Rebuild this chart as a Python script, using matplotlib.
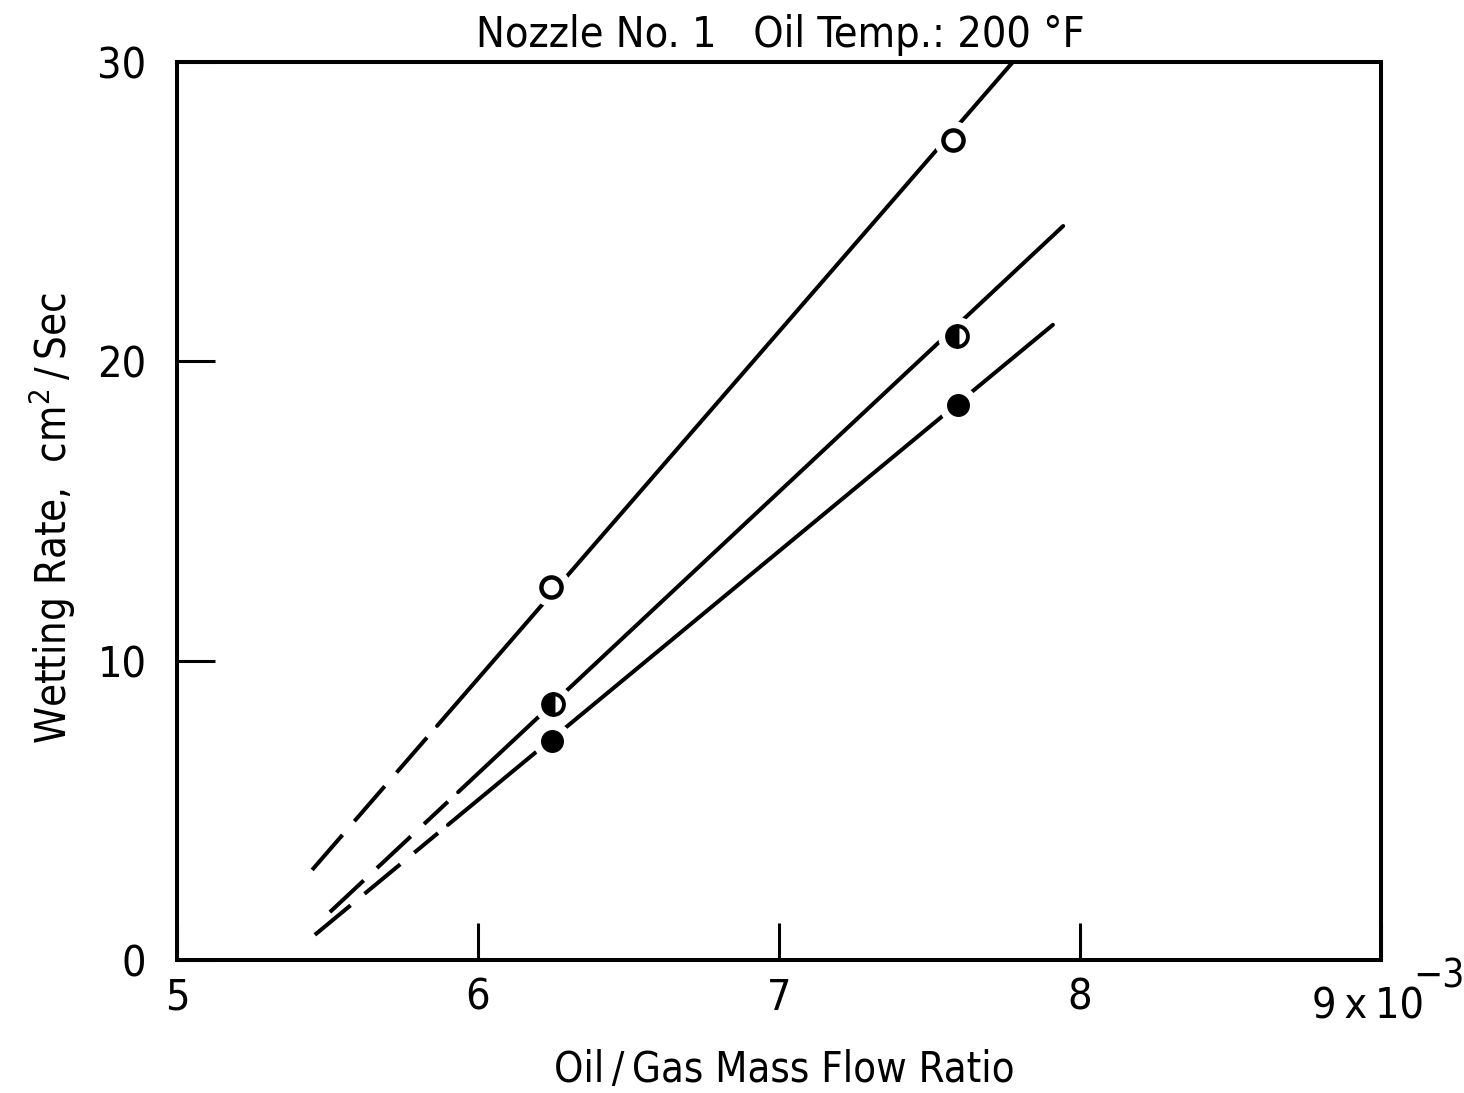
import os
import dataclasses
import numpy as np
import matplotlib
matplotlib.use("Agg")
import matplotlib.pyplot as plt
from matplotlib import font_manager

# pick a narrow / condensed sans for the lettering, registered under one name
prefer = ['liberationsansnarrow-regular', 'notosans-condensed.', 'notosans-condensed',
          'dejavusanscondensed.', 'notosans-semicondensed', 'opensans-condensed',
          'roboto-condensed', 'robotocondensed-regular']
best, best_rank = None, 99
for f in font_manager.fontManager.ttflist:
    base = os.path.basename(f.fname).lower()
    if f.style != 'normal' or 'mono' in base or 'serif' in base or 'cjk' in base:
        continue
    for i, key in enumerate(prefer):
        if base.startswith(key) and i < best_rank:
            best, best_rank = f, i
FONT = 'DejaVu Sans'
if best is not None:
    font_manager.fontManager.ttflist.append(
        dataclasses.replace(best, name='ChartNarrow', weight=400, stretch='normal'))
    FONT = 'ChartNarrow'
plt.rcParams['font.family'] = [FONT, 'DejaVu Sans']
plt.rcParams['mathtext.fontset'] = 'custom'
for k in ('rm', 'it', 'bf', 'sf'):
    plt.rcParams['mathtext.' + k] = FONT

# measured points, x in units of 1e-3
open_x = [6.243, 7.578]
open_y = [12.46, 27.40]
half_x = [6.249, 7.591]
half_y = [8.55, 20.85]
solid_x = [6.246, 7.595]
solid_y = [7.32, 18.54]

# faired lines: start / end of each line
open_line_x = [5.449, 7.777]
open_line_y = [3.01, 30.0]
half_line_x = [5.508, 7.944]
half_line_y = [1.60, 24.52]
solid_line_x = [5.458, 7.910]
solid_line_y = [0.84, 21.22]

# end of the dashed (extrapolated) part, start of the solid part
open_split = [5.834, 5.864]
half_split = [5.900, 5.934]
solid_split = [5.867, 5.900]

x_ticks = [5, 6, 7, 8, 9]
x_ticklabels = ['5', '6', '7', '8', '']
y_ticks = [0, 10, 20, 30]
y_ticklabels = ['0', '10', '20', '30']

FS = 31
LW = 2.9
THIN = '\u2009'

fig = plt.figure(figsize=(14.64, 10.93), dpi=100)
ax = fig.add_axes([177 / 1464, 133 / 1093, 1204 / 1464, 898 / 1093])
ax.set_xlim(5, 9)
ax.set_ylim(0, 30)


def draw_line(lx, ly, split):
    xs = np.array([lx[0], split[0]])
    ys = np.interp(xs, lx, ly)
    ax.plot(xs, ys, color='black', lw=LW, dashes=(11.5, 4.5),
            dash_capstyle='butt', solid_capstyle='round', zorder=2)
    xs = np.array([split[1], lx[1]])
    ys = np.interp(xs, lx, ly)
    ax.plot(xs, ys, color='black', lw=LW, solid_capstyle='round', zorder=2,
            clip_on=False)


for lx, ly, sp in [(open_line_x, open_line_y, open_split),
                   (half_line_x, half_line_y, half_split),
                   (solid_line_x, solid_line_y, solid_split)]:
    draw_line(lx, ly, sp)

# white halo behind each symbol leaves the usual gap in the line
for px, py in [(open_x, open_y), (half_x, half_y), (solid_x, solid_y)]:
    ax.plot(px, py, 'o', ms=28, color='white', mec='none', zorder=3)

ax.plot(open_x, open_y, 'o', ms=14.5, mfc='white', mec='black', mew=3.2, zorder=4)
ax.plot(half_x, half_y, 'o', ms=15, fillstyle='left', mfc='black',
        markerfacecoloralt='white', mec='black', mew=2.8, zorder=4)
ax.plot(solid_x, solid_y, 'o', ms=15.5, mfc='black', mec='black', mew=1, zorder=4)

for s in ax.spines.values():
    s.set_linewidth(LW)
ax.set_xticks(x_ticks)
ax.set_xticklabels(x_ticklabels)
ax.set_yticks(y_ticks)
ax.set_yticklabels(y_ticklabels)
ax.tick_params(direction='in', length=27, width=2.2, labelsize=FS)
ax.tick_params(axis='x', pad=12)
ax.tick_params(axis='y', pad=22)

# last x label carries the scale factor
xt = ax.get_xaxis_transform()
ax.text(8.771, -0.0646, f'9{THIN}x{THIN}10', transform=xt, ha='left',
        va='baseline', fontsize=FS)
ax.text(9.106, -0.031, '\u22123', transform=xt, ha='left', va='baseline',
        fontsize=FS - 3)

fig.text(780 / 1464, 1 - 35 / 1093, 'Nozzle No. 1   Oil Temp.: 200 °F',
         ha='center', va='center', fontsize=FS)
fig.text(784 / 1464, 1 - 1070 / 1093, f'Oil{THIN}/{THIN}Gas Mass Flow Ratio',
         ha='center', va='center', fontsize=FS - 1)
fig.text(52 / 1464, 1 - 518 / 1093,
         f'Wetting Rate,  cm$^2${THIN}/{THIN}Sec',
         ha='center', va='center', rotation=90, fontsize=FS - 1)

fig.savefig('out.png', dpi=100, facecolor='white')
